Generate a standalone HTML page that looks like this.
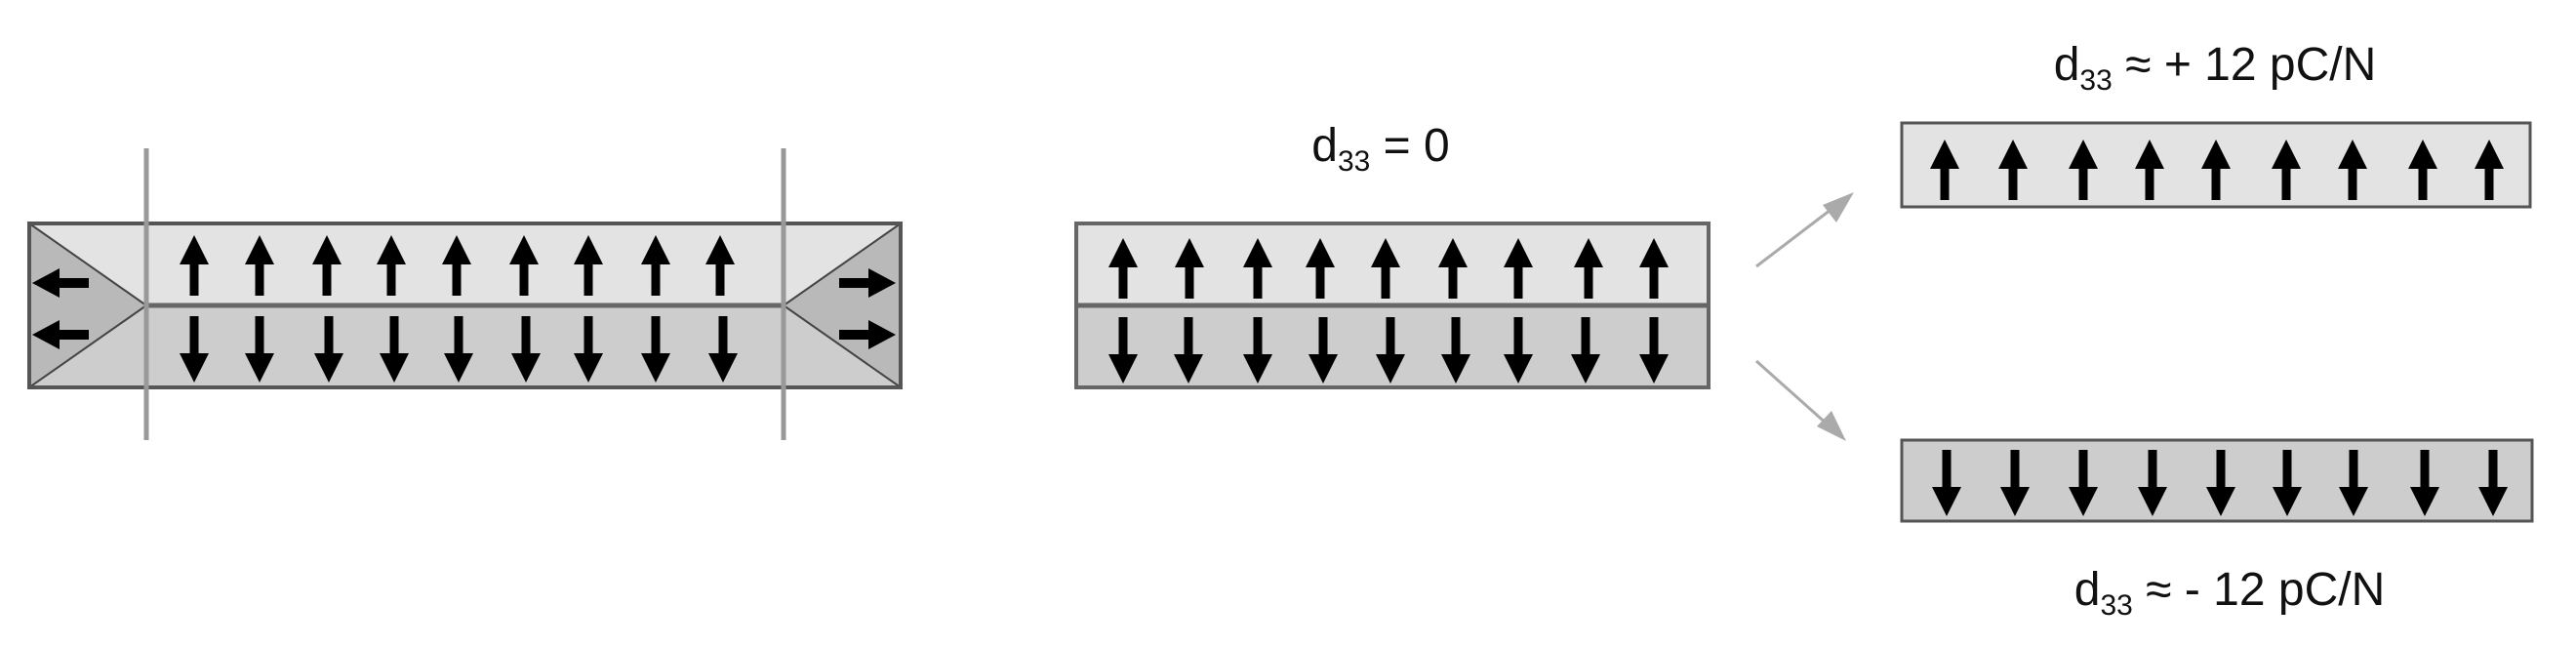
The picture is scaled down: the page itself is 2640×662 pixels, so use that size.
<!DOCTYPE html>
<html><head><meta charset="utf-8"><style>
html,body{margin:0;padding:0;background:#fff;}
svg{display:block}
text{font-family:"Liberation Sans",sans-serif;fill:#111}
</style></head><body>
<svg width="2640" height="662" viewBox="0 0 2640 662" xmlns="http://www.w3.org/2000/svg">
<defs>
<polygon id="up" points="0,0 15,30 4.5,30 4.5,62 -4.5,62 -4.5,30 -15,30" fill="#000"/>
<polygon id="dn" points="0,68 15,38 4.5,38 4.5,0 -4.5,0 -4.5,38 -15,38" fill="#000"/>
<polygon id="lf" points="0,0 28,-15 28,-5 58,-5 58,5 28,5 28,15" fill="#000"/>
<polygon id="rt" points="0,0 -28,-15 -28,-5 -58,-5 -58,5 -28,5 -28,15" fill="#000"/>
</defs>

<rect x="30" y="229" width="893" height="84" fill="#e3e3e3"/>
<rect x="30" y="313" width="893" height="84" fill="#cdcdcd"/>
<polygon points="30,229 150,313 30,397" fill="#b9b9b9" stroke="#444" stroke-width="2"/>
<polygon points="923,229 803,313 923,397" fill="#b9b9b9" stroke="#444" stroke-width="2"/>
<line x1="150" y1="313" x2="803" y2="313" stroke="#666" stroke-width="5"/>
<rect x="30" y="229" width="893" height="168" fill="none" stroke="#555" stroke-width="4"/>
<line x1="150" y1="152" x2="150" y2="451" stroke="#999" stroke-width="5"/>
<line x1="803" y1="152" x2="803" y2="451" stroke="#999" stroke-width="5"/>
<g>
<use href="#up" x="199" y="241"/><use href="#up" x="266" y="241"/><use href="#up" x="335" y="241"/>
<use href="#up" x="401" y="241"/><use href="#up" x="468" y="241"/><use href="#up" x="537" y="241"/>
<use href="#up" x="603" y="241"/><use href="#up" x="672" y="241"/><use href="#up" x="738" y="241"/>
<use href="#dn" x="199" y="324"/><use href="#dn" x="266" y="324"/><use href="#dn" x="337" y="324"/>
<use href="#dn" x="404" y="324"/><use href="#dn" x="470" y="324"/><use href="#dn" x="539" y="324"/>
<use href="#dn" x="603" y="324"/><use href="#dn" x="672" y="324"/><use href="#dn" x="741" y="324"/>
<use href="#lf" x="33" y="290"/><use href="#lf" x="33" y="343"/>
<use href="#rt" x="918" y="290"/><use href="#rt" x="918" y="343"/>
</g>

<text x="1415" y="165" font-size="48" text-anchor="middle">d<tspan font-size="30" dy="10">33</tspan><tspan dy="-10"> = 0</tspan></text>
<rect x="1103" y="229" width="648" height="84" fill="#e3e3e3"/>
<rect x="1103" y="313" width="648" height="84" fill="#cdcdcd"/>
<line x1="1103" y1="313" x2="1751" y2="313" stroke="#666" stroke-width="5"/>
<rect x="1103" y="229" width="648" height="168" fill="none" stroke="#666" stroke-width="4"/>
<g>
<use href="#up" x="1151" y="244"/><use href="#up" x="1219" y="244"/><use href="#up" x="1289" y="244"/>
<use href="#up" x="1353" y="244"/><use href="#up" x="1420" y="244"/><use href="#up" x="1489" y="244"/>
<use href="#up" x="1556" y="244"/><use href="#up" x="1628" y="244"/><use href="#up" x="1695" y="244"/>
<use href="#dn" x="1151" y="325"/><use href="#dn" x="1218" y="325"/><use href="#dn" x="1289" y="325"/>
<use href="#dn" x="1356" y="325"/><use href="#dn" x="1425" y="325"/><use href="#dn" x="1492" y="325"/>
<use href="#dn" x="1556" y="325"/><use href="#dn" x="1625" y="325"/><use href="#dn" x="1695" y="325"/>
</g>

<line x1="1800" y1="273" x2="1880" y2="212" stroke="#aaa" stroke-width="3"/>
<polygon points="1900,197 1868,210 1882,228" fill="#aaa"/>
<line x1="1800" y1="370" x2="1874" y2="436" stroke="#aaa" stroke-width="3"/>
<polygon points="1892,452 1862,437 1877,421" fill="#aaa"/>

<text x="2270" y="82" font-size="48" text-anchor="middle">d<tspan font-size="30" dy="10">33</tspan><tspan dy="-10"> ≈ + 12 pC/N</tspan></text>
<rect x="1949" y="126" width="644" height="86" fill="#e3e3e3" stroke="#555" stroke-width="3"/>
<g>
<use href="#up" x="1993" y="143"/><use href="#up" x="2063" y="143"/><use href="#up" x="2135" y="143"/>
<use href="#up" x="2203" y="143"/><use href="#up" x="2271" y="143"/><use href="#up" x="2343" y="143"/>
<use href="#up" x="2411" y="143"/><use href="#up" x="2483" y="143"/><use href="#up" x="2551" y="143"/>
</g>

<rect x="1949" y="451" width="646" height="83" fill="#cdcdcd" stroke="#555" stroke-width="3"/>
<g>
<use href="#dn" x="1995" y="461"/><use href="#dn" x="2065" y="461"/><use href="#dn" x="2135" y="461"/>
<use href="#dn" x="2206" y="461"/><use href="#dn" x="2276" y="461"/><use href="#dn" x="2344" y="461"/>
<use href="#dn" x="2412" y="461"/><use href="#dn" x="2485" y="461"/><use href="#dn" x="2555" y="461"/>
</g>
<text x="2285" y="620" font-size="48" text-anchor="middle">d<tspan font-size="30" dy="10">33</tspan><tspan dy="-10"> ≈ - 12 pC/N</tspan></text>
</svg>
</body></html>
